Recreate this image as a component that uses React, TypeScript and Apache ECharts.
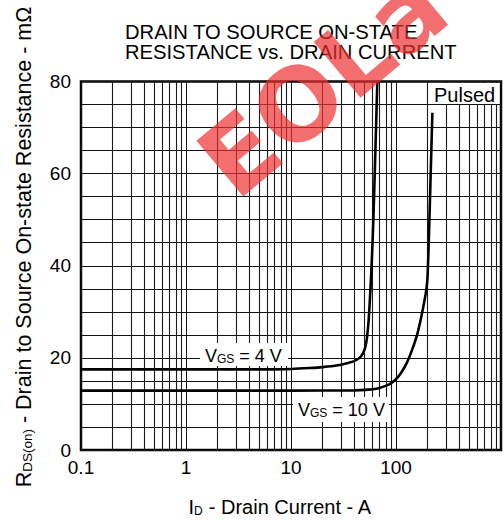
import React, { useEffect, useRef } from 'react';
import * as echarts from 'echarts';

// Tick labels on the X axis (log scale)
const xTickLabels = ['0.1', '1', '10', '100'];
// Decades and multipliers for the log grid
const decades = [0.1, 1, 10, 100];
const multipliers = [2, 3, 4, 5, 6, 7, 8, 9];

// R_DS(on) (mΩ) vs I_D (A)
const vgs4: [number, number][] = [
  [0.1, 17.5], [2, 17.5], [6, 17.5], [10, 17.6], [15, 17.8], [20, 18.0],
  [28, 18.4], [35, 18.9], [40, 19.3], [45, 20.0], [48, 20.8], [51, 22.3],
  [53, 24.5], [55, 28.5], [56.5, 33], [58, 38], [60, 46], [62, 56], [64, 67], [66.4, 80],
];
const vgs10: [number, number][] = [
  [0.1, 12.9], [10, 12.9], [40, 12.95], [55, 13.1], [65, 13.3], [75, 13.7],
  [87, 14.3], [98, 15.2], [110, 16.5], [126, 18.8], [140, 21.3], [157, 24.6],
  [170, 27.8], [182, 31.1], [192, 34], [199, 37], [205, 45], [211, 55], [217, 65], [222, 73.2],
];

const FONT = '"Liberation Sans", Arial, Helvetica, sans-serif';

export default function App() {
  const ref = useRef<HTMLDivElement>(null);
  useEffect(() => {
    const chart = echarts.init(ref.current!, null, { renderer: 'svg' });
    const minorLines = decades.flatMap((d) =>
      multipliers.map((m) => ({ xAxis: +(d * m).toPrecision(3) }))
    );
    chart.setOption({
      animation: false,
      backgroundColor: '#fff',
      textStyle: { fontFamily: FONT, color: '#000' },
      title: {
        text: 'DRAIN TO SOURCE ON-STATE\nRESISTANCE vs. DRAIN CURRENT',
        left: 125,
        top: 22,
        padding: 0,
        textStyle: { fontFamily: FONT, fontSize: 20.2, lineHeight: 20, fontWeight: 'normal', color: '#000' },
      },
      grid: {
        left: 81, right: 2, top: 81.5, bottom: 70,
        show: true, borderColor: '#000', borderWidth: 2.5, backgroundColor: 'transparent',
      },
      xAxis: {
        type: 'log', logBase: 10, min: 0.1, max: 1000,
        axisLine: { show: false },
        axisTick: { show: false },
        axisLabel: {
          fontFamily: FONT, fontSize: 19, color: '#000', margin: 8,
          showMaxLabel: false,
          formatter: (v: number) => {
            const s = v < 1 ? v.toFixed(1) : String(Math.round(v));
            return xTickLabels.includes(s) ? s : '';
          },
        },
        splitLine: { show: true, lineStyle: { color: '#111', width: 1 } },
      },
      yAxis: {
        type: 'value', min: 0, max: 80, interval: 20,
        axisLine: { show: false },
        axisTick: { show: false },
        axisLabel: { fontFamily: FONT, fontSize: 19, color: '#000', margin: 10 },
        splitLine: { show: true, lineStyle: { color: '#111', width: 1 } },
        minorTick: { show: false, splitNumber: 4 },
        minorSplitLine: { show: true, lineStyle: { color: '#111', width: 1 } },
      },
      series: [
        {
          type: 'line', data: [], z: 1, silent: true,
          markLine: {
            silent: true, symbol: 'none', animation: false,
            label: { show: false },
            lineStyle: { color: '#1a1a1a', width: 1.1, type: 'solid' },
            data: minorLines,
          },
        },
        {
          name: 'VGS = 4 V', type: 'line', data: vgs4, showSymbol: false, smooth: 0.3, z: 5,
          lineStyle: { color: '#000', width: 2.6 },
        },
        {
          name: 'VGS = 10 V', type: 'line', data: vgs10, showSymbol: false, smooth: 0.3, z: 5,
          lineStyle: { color: '#000', width: 2.6 },
        },
      ],
      graphic: [
        // label boxes
        { type: 'rect', z: 50, shape: { x: 200, y: 343, width: 88, height: 23 }, style: { fill: '#fff' } },
        {
          type: 'text', z: 51, x: 205, y: 355,
          style: {
            text: '{v|V}{s|GS}{v| = 4 V}', verticalAlign: 'middle', align: 'left',
            rich: {
              v: { fontFamily: FONT, fontSize: 18, fill: '#000', verticalAlign: 'bottom', lineHeight: 20 },
              s: { fontFamily: FONT, fontSize: 12, fill: '#000', verticalAlign: 'bottom', lineHeight: 18 },
            },
          },
        },
        { type: 'rect', z: 50, shape: { x: 293, y: 397, width: 96, height: 25 }, style: { fill: '#fff' } },
        {
          type: 'text', z: 51, x: 298, y: 409,
          style: {
            text: '{v|V}{s|GS}{v| = 10 V}', verticalAlign: 'middle', align: 'left',
            rich: {
              v: { fontFamily: FONT, fontSize: 18, fill: '#000', verticalAlign: 'bottom', lineHeight: 20 },
              s: { fontFamily: FONT, fontSize: 12, fill: '#000', verticalAlign: 'bottom', lineHeight: 18 },
            },
          },
        },
        { type: 'rect', z: 50, shape: { x: 429, y: 83, width: 70.5, height: 21 }, style: { fill: '#fff' } },
        {
          type: 'text', z: 51, x: 434, y: 94.5,
          style: { text: 'Pulsed', fontFamily: FONT, fontSize: 20, fill: '#000', verticalAlign: 'middle', align: 'left' },
        },
        // axis titles
        {
          type: 'text', z: 51, x: 280, y: 506,
          style: {
            text: '{v|I}{s|D}{v| - Drain Current - A}', verticalAlign: 'middle', align: 'center',
            rich: {
              v: { fontFamily: FONT, fontSize: 20, fill: '#000', verticalAlign: 'bottom', lineHeight: 22 },
              s: { fontFamily: FONT, fontSize: 12, fill: '#000', verticalAlign: 'bottom', lineHeight: 20 },
            },
          },
        },
        {
          type: 'text', z: 51, x: 23, y: 247, rotation: Math.PI / 2,
          style: {
            text: '{v|R}{s|DS(on)}{v| - Drain to Source On-state Resistance - mΩ}', verticalAlign: 'middle', align: 'center',
            rich: {
              v: { fontFamily: FONT, fontSize: 21.5, fill: '#000', verticalAlign: 'bottom', lineHeight: 23 },
              s: { fontFamily: FONT, fontSize: 13.5, fill: '#000', verticalAlign: 'bottom', lineHeight: 21 },
            },
          },
        },
        // watermark
        {
          type: 'text', z: 60, x: 214, y: 176, rotation: (40 * Math.PI) / 180, silent: true,
          style: {
            text: 'EOLa', fontFamily: '"DejaVu Sans", sans-serif', fontSize: 100, fontWeight: 'bold',
            fill: '#ee3030', opacity: 0.7, verticalAlign: 'middle', align: 'left',
          },
        },
      ],
    });
    return () => chart.dispose();
  }, []);
  return <div ref={ref} style={{ position: 'fixed', left: 0, top: 0, width: 503, height: 520 }} />;
}
